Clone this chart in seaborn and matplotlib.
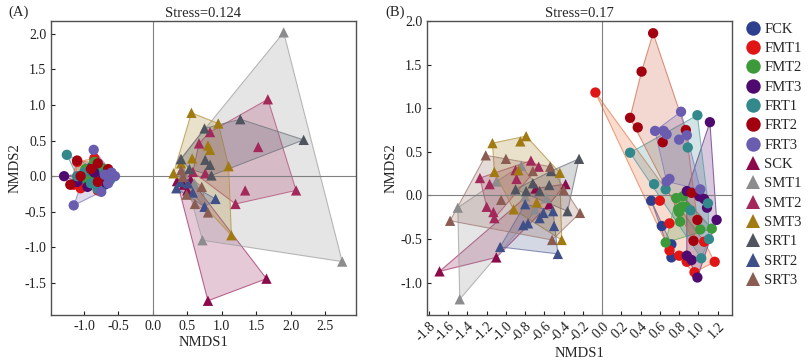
import matplotlib
matplotlib.use("Agg")
import matplotlib.pyplot as plt
import pandas as pd
import seaborn as sns
from matplotlib.ticker import MultipleLocator, FormatStrFormatter

GROUPS = ["FCK", "FMT1", "FMT2", "FMT3", "FRT1", "FRT2", "FRT3",
          "SCK", "SMT1", "SMT2", "SMT3", "SRT1", "SRT2", "SRT3"]
COLORS = ["#2d3f8f", "#e01515", "#3d9a3a", "#4e0a6e", "#33888c", "#a2000f", "#6a5cae",
          "#8c0a4c", "#8c8c8e", "#a3295a", "#a27a12", "#50545f", "#3f4f88", "#8b5d52"]

# panel A (NMDS, stress 0.124)
A_FCK = [(-0.95, 0.05), (-0.85, -0.05), (-0.75, 0.08), (-1.0, -0.1), (-0.7, -0.12), (-0.9, 0.12)]
A_FMT1 = [(-1.15, -0.12), (-1.05, -0.17), (-0.85, 0.25), (-0.65, 0.05), (-0.8, -0.2), (-1.1, 0.2), (-0.72, -0.05)]
A_FMT2 = [(-0.98, 0.1), (-0.85, 0.2), (-0.8, 0.0), (-0.9, -0.05), (-0.75, 0.12), (-0.95, -0.08)]
A_FMT3 = [(-1.29, 0.0), (-1.1, -0.08), (-0.95, -0.15), (-0.75, -0.1), (-0.65, 0.08), (-0.85, 0.05), (-0.72, 0.0)]
A_FRT1 = [(-1.25, 0.30), (-1.1, 0.0), (-1.0, 0.05), (-0.9, -0.1), (-0.8, -0.18), (-0.7, 0.05), (-0.62, -0.05)]
A_FRT2 = [(-1.1, 0.22), (-1.2, -0.12), (-1.05, 0.0), (-0.9, 0.1), (-0.8, -0.08), (-0.65, 0.1), (-0.8, 0.18)]
A_FRT3 = [(-0.86, 0.37), (-1.15, -0.41), (-0.55, 0.0), (-0.75, -0.22), (-0.65, -0.1), (-0.6, 0.05), (-0.7, 0.02)]
A_SCK = [(0.35, -0.07), (0.45, -0.12), (0.55, -0.05), (0.80, -1.75), (1.65, -1.44), (0.5, -0.2)]
A_SMT1 = [(1.90, 2.02), (2.75, -1.20), (0.72, -0.90), (0.40, 0.24), (0.45, 0.05), (0.6, -0.1)]
A_SMT2 = [(1.67, 1.08), (2.08, -0.20), (1.53, 0.41), (1.34, -0.20), (1.20, -0.39),
          (0.83, 0.62), (0.67, 0.46), (0.76, 0.04), (0.58, 0.06)]
A_SMT3 = [(0.56, 0.89), (0.95, 0.74), (1.10, 0.14), (1.14, -0.83), (0.30, 0.04),
          (0.41, 0.18), (0.57, 0.25), (0.80, 0.43), (0.83, 0.37)]
A_SRT1 = [(1.27, 0.80), (2.19, 0.51), (0.75, 0.67), (0.76, 0.23), (0.83, 0.16),
          (0.85, 0.01), (0.41, 0.24), (0.53, 0.10)]
A_SRT2 = [(0.91, -0.32), (0.75, -0.43), (0.34, -0.17), (0.58, -0.23), (0.51, -0.10), (0.40, -0.08)]
A_SRT3 = [(0.80, -0.51), (0.61, -0.39), (0.49, -0.26), (0.71, -0.15), (0.41, 0.08), (0.44, -0.01)]

# panel B (NMDS, stress 0.17)
B_FCK = [(0.51, -0.06), (0.72, -0.56), (0.72, -0.71), (0.62, -0.35)]
B_FMT1 = [(-0.07, 1.18), (0.60, -0.06), (0.70, -0.32), (0.70, -0.63), (0.80, -0.69),
          (0.88, -0.76), (0.96, -0.88), (1.17, -0.76), (1.06, -0.53)]
B_FMT2 = [(0.77, -0.03), (0.84, -0.01), (0.80, -0.19), (0.83, -0.13), (0.87, -0.13),
          (0.81, -0.30), (0.66, -0.54), (1.02, -0.39), (1.14, -0.38), (0.79, -0.16)]
B_FMT3 = [(1.12, 0.84), (1.19, -0.28), (0.99, -0.94), (0.88, -0.69), (0.93, -0.74),
          (0.88, 0.05), (1.01, -0.01), (1.06, -0.04), (1.09, -0.14)]
B_FRT1 = [(0.99, 0.92), (0.29, 0.49), (0.89, 0.55), (0.54, 0.13), (0.66, 0.07),
          (0.92, -0.17), (1.10, -0.09), (1.11, -0.50), (1.03, -0.72)]
B_FRT2 = [(0.53, 1.86), (0.41, 1.42), (0.29, 0.89), (0.37, 0.78), (0.63, 0.61),
          (0.87, 0.75), (0.93, 0.03), (0.99, -0.28), (0.95, -0.52)]
B_FRT3 = [(0.82, 0.96), (0.55, 0.74), (0.64, 0.74), (0.67, 0.70), (0.80, 0.64),
          (0.88, 0.69), (0.67, 0.16), (0.70, 0.19), (1.02, 0.07)]
B_SCK = [(-1.69, -0.87), (-1.10, -0.71), (-0.38, 0.13), (-0.69, 0.08), (-0.55, -0.10)]
B_SMT1 = [(-1.48, -1.19), (-1.50, -0.14), (-0.84, 0.34), (-1.10, 0.16), (-0.70, -0.16),
          (-0.58, -0.03), (-0.80, -0.01)]
B_SMT2 = [(-1.27, 0.20), (-1.17, 0.13), (-0.74, 0.40), (-0.66, 0.33), (-0.89, 0.19),
          (-1.20, -0.13), (-1.13, -0.19), (-1.12, -0.26), (-0.90, 0.29)]
B_SMT3 = [(-0.79, 0.68), (-0.85, 0.62), (-1.14, 0.60), (-1.12, 0.27), (-0.87, 0.29),
          (-0.44, 0.26), (-0.42, -0.51), (-0.92, -0.16), (-0.68, -0.08)]
B_SRT1 = [(-0.24, 0.42), (-0.36, -0.18), (-0.53, 0.28), (-0.55, 0.12), (-0.90, 0.07),
          (-0.72, 0.14), (-0.79, 0.05), (-0.65, 0.05)]
B_SRT2 = [(-0.46, -0.67), (-1.06, -0.59), (-0.50, -0.35), (-0.82, -0.34), (-0.77, -0.32),
          (-0.51, -0.18), (-0.61, -0.20), (-0.80, -0.10), (-0.65, -0.26)]
B_SRT3 = [(-1.58, -0.29), (-1.21, 0.46), (-1.00, 0.42), (-0.54, 0.33), (-0.23, -0.20),
          (-0.52, -0.51), (-0.40, 0.06), (-1.05, -0.05), (-0.72, 0.28)]

PANEL_A = [A_FCK, A_FMT1, A_FMT2, A_FMT3, A_FRT1, A_FRT2, A_FRT3,
           A_SCK, A_SMT1, A_SMT2, A_SMT3, A_SRT1, A_SRT2, A_SRT3]
PANEL_B = [B_FCK, B_FMT1, B_FMT2, B_FMT3, B_FRT1, B_FRT2, B_FRT3,
           B_SCK, B_SMT1, B_SMT2, B_SMT3, B_SRT1, B_SRT2, B_SRT3]


def to_frame(panel):
    rows = []
    for name, pts in zip(GROUPS, panel):
        for x, y in pts:
            rows.append({"group": name, "NMDS1": x, "NMDS2": y})
    return pd.DataFrame(rows)


def convex_hull(pts):
    pts = sorted(set(pts))
    if len(pts) < 3:
        return pts

    def cross(o, a, b):
        return (a[0] - o[0]) * (b[1] - o[1]) - (a[1] - o[1]) * (b[0] - o[0])

    lower, upper = [], []
    for p in pts:
        while len(lower) >= 2 and cross(lower[-2], lower[-1], p) <= 0:
            lower.pop()
        lower.append(p)
    for p in reversed(pts):
        while len(upper) >= 2 and cross(upper[-2], upper[-1], p) <= 0:
            upper.pop()
        upper.append(p)
    return lower[:-1] + upper[:-1]


sns.set_style("white")
plt.rcParams["font.family"] = ["Liberation Serif", "DejaVu Serif"]

palette = dict(zip(GROUPS, COLORS))
markers = {g: ("o" if g.startswith("F") else "^") for g in GROUPS}
# hull tint for FMT1 is more orange than its points
hull_colors = dict(palette, FMT1="#e8642a", FRT2="#c4502a")

fig = plt.figure(figsize=(8.12, 3.6), dpi=100)
ax1 = fig.add_axes([0.0628, 0.125, 0.3756, 0.8167])
ax2 = fig.add_axes([0.5259, 0.125, 0.3756, 0.8167])

for ax, panel, show_legend in [(ax1, PANEL_A, False), (ax2, PANEL_B, True)]:
    df = to_frame(panel)
    for name, pts in zip(GROUPS, panel):
        h = convex_hull(pts)
        xs = [p[0] for p in h]
        ys = [p[1] for p in h]
        ax.fill(xs, ys, facecolor=hull_colors[name], alpha=0.22, zorder=1)
        ax.fill(xs, ys, facecolor="none", edgecolor=hull_colors[name], alpha=0.6,
                linewidth=0.8, zorder=1)
    sns.scatterplot(data=df, x="NMDS1", y="NMDS2", hue="group", style="group",
                    palette=palette, markers=markers, hue_order=GROUPS,
                    style_order=GROUPS, s=55, linewidth=0, alpha=1,
                    legend=show_legend, ax=ax, zorder=3)
    ax.axhline(0, color="#808080", linewidth=0.8, zorder=2)
    ax.axvline(0, color="#808080", linewidth=0.8, zorder=2)
    for sp in ax.spines.values():
        sp.set_color("#505050")
        sp.set_linewidth(1.0)
    ax.tick_params(direction="in", length=3, labelsize=10, colors="#202020",
                   bottom=True, left=True)
    ax.set_xlabel("NMDS1", fontsize=10.5, labelpad=2)
    ax.set_ylabel("NMDS2", fontsize=10.5, labelpad=2)

ax1.set_xlim(-1.48, 2.95)
ax1.set_ylim(-1.95, 2.18)
ax1.xaxis.set_major_locator(MultipleLocator(0.5))
ax1.yaxis.set_major_locator(MultipleLocator(0.5))
ax1.xaxis.set_major_formatter(FormatStrFormatter("%.1f"))
ax1.yaxis.set_major_formatter(FormatStrFormatter("%.1f"))
ax1.set_title("Stress=0.124", fontsize=10.5, pad=3)

ax2.set_xlim(-1.82, 1.35)
ax2.set_ylim(-1.37, 2.0)
ax2.xaxis.set_major_locator(MultipleLocator(0.2))
ax2.yaxis.set_major_locator(MultipleLocator(0.5))
ax2.xaxis.set_major_formatter(FormatStrFormatter("%.1f"))
ax2.yaxis.set_major_formatter(FormatStrFormatter("%.1f"))
ax2.set_title("Stress=0.17", fontsize=10.5, pad=3)
plt.setp(ax2.get_xticklabels(), rotation=45, ha="right", rotation_mode="anchor")

handles, labels = ax2.get_legend_handles_labels()
ax2.legend(handles, labels, loc="upper left", bbox_to_anchor=(1.02, 1.015),
           frameon=False, fontsize=10.5, markerscale=1.4, handletextpad=0.2,
           labelspacing=0.42, borderaxespad=0, handlelength=1.2)

fig.text(0.01, 0.955, "(A)", fontsize=10.5)
fig.text(0.474, 0.955, "(B)", fontsize=10.5)

fig.savefig("out.png", dpi=100)
